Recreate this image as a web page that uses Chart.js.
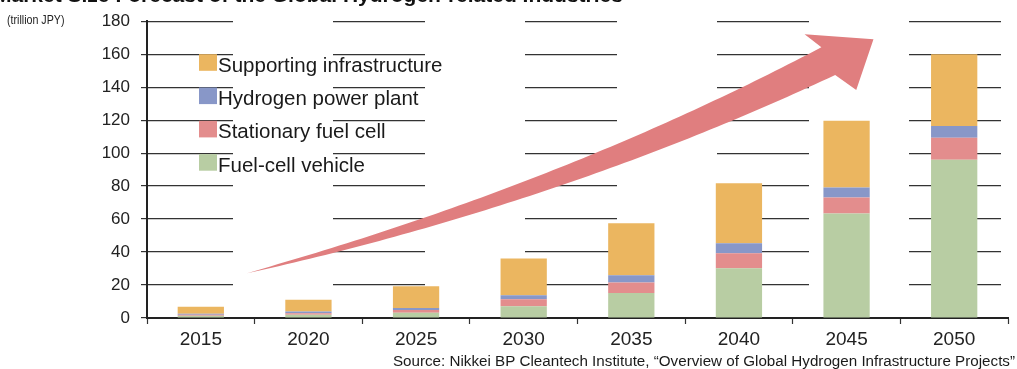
<!DOCTYPE html>
<html>
<head>
<meta charset="utf-8">
<script src="https://cdn.jsdelivr.net/npm/chart.js@4.4.1/dist/chart.umd.min.js"></script>
<style>
  html, body { margin: 0; padding: 0; background: #fff; overflow: hidden; }
  #wrap { position: relative; width: 1017px; height: 369px; }
</style>
</head>
<body>
<div id="wrap"><canvas id="c" width="1017" height="369"></canvas></div>
<script>
// Market size by segment, trillion JPY
const years = ['2015', '2020', '2025', '2030', '2035', '2040', '2045', '2050'];
const fuelCellVehicle      = [1.4, 2.0, 3.2, 7.2, 15.1, 30.2, 63.4, 96.0];
const stationaryFuelCell   = [0.6, 0.9, 1.6, 4.2, 6.5, 9.1, 9.7, 13.3];
const hydrogenPowerPlant   = [0.6, 1.0, 1.2, 2.4, 4.4, 6.0, 6.0, 7.2];
const supportingInfra      = [4.2, 7.1, 13.3, 22.3, 31.4, 36.4, 40.5, 43.5];
const yTickValues = [0, 20, 40, 60, 80, 100, 120, 140, 160, 180];

const seriesNames = ['Fuel-cell vehicle', 'Stationary fuel cell', 'Hydrogen power plant', 'Supporting infrastructure'];
const seriesColors = ['#B8CDA3', '#E38D8D', '#8897C8', '#EBB660'];

const FONT = '"Liberation Sans", Arial, Helvetica, sans-serif';

// Growth arrow, anchored in (category index, value) space
const arrowSpine = { tail: [0.43, 27.2], ctrl: [3.34, 75.0], end: [5.83, 155.8] };
const arrowHead = { tip: [6.25, 169.1], barbUpper: [5.61, 172.1], barbLower: [6.09, 138.3] };

const arrowPlugin = {
  id: 'growthArrow',
  afterDatasetsDraw(chart) {
    const { ctx, scales: { x, y } } = chart;
    const px = p => [x.getPixelForValue(p[0]), y.getPixelForValue(p[1])];
    const P0 = px(arrowSpine.tail), P1 = px(arrowSpine.ctrl), P2 = px(arrowSpine.end);
    const maxHalf = 15.5;
    const upper = [], lower = [];
    const N = 80;
    for (let i = 0; i <= N; i++) {
      const t = i / N, u = 1 - t;
      const cx = u * u * P0[0] + 2 * t * u * P1[0] + t * t * P2[0];
      const cy = u * u * P0[1] + 2 * t * u * P1[1] + t * t * P2[1];
      const dx = 2 * u * (P1[0] - P0[0]) + 2 * t * (P2[0] - P1[0]);
      const dy = 2 * u * (P1[1] - P0[1]) + 2 * t * (P2[1] - P1[1]);
      const len = Math.hypot(dx, dy);
      const nx = dy / len, ny = -dx / len; // points up-left
      const w = maxHalf * Math.pow(t, 0.9);
      upper.push([cx + nx * w, cy + ny * w]);
      lower.push([cx - nx * w, cy - ny * w]);
    }
    const tip = px(arrowHead.tip), bu = px(arrowHead.barbUpper), bl = px(arrowHead.barbLower);
    ctx.save();
    ctx.fillStyle = '#E07E7F';
    ctx.beginPath();
    ctx.moveTo(upper[0][0], upper[0][1]);
    upper.forEach(p => ctx.lineTo(p[0], p[1]));
    ctx.lineTo(bu[0], bu[1]);
    ctx.lineTo(tip[0], tip[1]);
    ctx.lineTo(bl[0], bl[1]);
    for (let i = lower.length - 1; i >= 0; i--) ctx.lineTo(lower[i][0], lower[i][1]);
    ctx.closePath();
    ctx.fill();
    ctx.restore();
  }
};

const annotationPlugin = {
  id: 'annotations',
  afterDraw(chart) {
    const { ctx, chartArea } = chart;
    ctx.save();
    // Legend inside the plot, top entry is the top of the stack
    const order = [3, 2, 1, 0];
    const lx = chartArea.left + 52, ly = chartArea.top + 33, rowH = 33.3;
    ctx.font = '20.5px ' + FONT;
    ctx.textBaseline = 'alphabetic';
    ctx.textAlign = 'left';
    order.forEach((k, i) => {
      const top = ly + i * rowH;
      ctx.fillStyle = seriesColors[k];
      ctx.fillRect(lx, top, 18, 16.6);
      ctx.fillStyle = '#1a1a1a';
      ctx.fillText(seriesNames[k], lx + 19, top + 17.5);
    });
    // Unit label, condensed
    ctx.save();
    ctx.font = '13px ' + FONT;
    ctx.fillStyle = '#222';
    ctx.textBaseline = 'middle';
    ctx.translate(7, chartArea.top - 1);
    ctx.scale(0.82, 1);
    ctx.fillText('(trillion JPY)', 0, 0);
    ctx.restore();
    // Source line
    ctx.font = '15.2px ' + FONT;
    ctx.fillStyle = '#1a1a1a';
    ctx.textAlign = 'right';
    ctx.textBaseline = 'alphabetic';
    ctx.fillText('Source: Nikkei BP Cleantech Institute, \u201cOverview of Global Hydrogen Infrastructure Projects\u201d', 1015, 366);
    // Title, running off the top edge
    ctx.font = 'bold 21px ' + FONT;
    ctx.textAlign = 'left';
    ctx.fillStyle = '#111';
    ctx.fillText('Market Size Forecast of the Global Hydrogen-related Industries', -6, 2);
    ctx.restore();
  }
};

const datasets = [fuelCellVehicle, stationaryFuelCell, hydrogenPowerPlant, supportingInfra].map((d, i) => ({
  label: seriesNames[i],
  data: d,
  backgroundColor: seriesColors[i],
  borderWidth: 0,
  categoryPercentage: 1,
  barPercentage: 0.43,
  stack: 'market'
}));

new Chart(document.getElementById('c'), {
  type: 'bar',
  data: { labels: years, datasets },
  options: {
    responsive: false,
    animation: false,
    devicePixelRatio: 1,
    layout: { padding: { left: 0, right: 9, top: 20, bottom: 0 } },
    plugins: { legend: { display: false }, tooltip: { enabled: false } },
    scales: {
      x: {
        stacked: true,
        offset: true,
        grid: { offset: true, drawOnChartArea: false, drawTicks: true, tickLength: 6, tickColor: '#333', tickWidth: 1.2 },
        border: { display: true, color: '#222', width: 2 },
        ticks: { font: { family: FONT, size: 19 }, color: '#222', padding: 4, maxRotation: 0 },
        afterFit(scale) { scale.height = 51; }
      },
      y: {
        stacked: true,
        min: 0,
        max: 180,
        afterBuildTicks(scale) { scale.ticks = yTickValues.map(v => ({ value: v })); },
        grid: { color: '#333', lineWidth: 1.2, tickLength: 6, tickColor: '#333', tickWidth: 1.2 },
        border: { display: true, color: '#222', width: 2, dash: [92, 100], dashOffset: 7 },
        ticks: { font: { family: FONT, size: 17 }, color: '#222', padding: 11 },
        afterFit(scale) { scale.width = 147; }
      }
    }
  },
  plugins: [arrowPlugin, annotationPlugin]
});
</script>
</body>
</html>
